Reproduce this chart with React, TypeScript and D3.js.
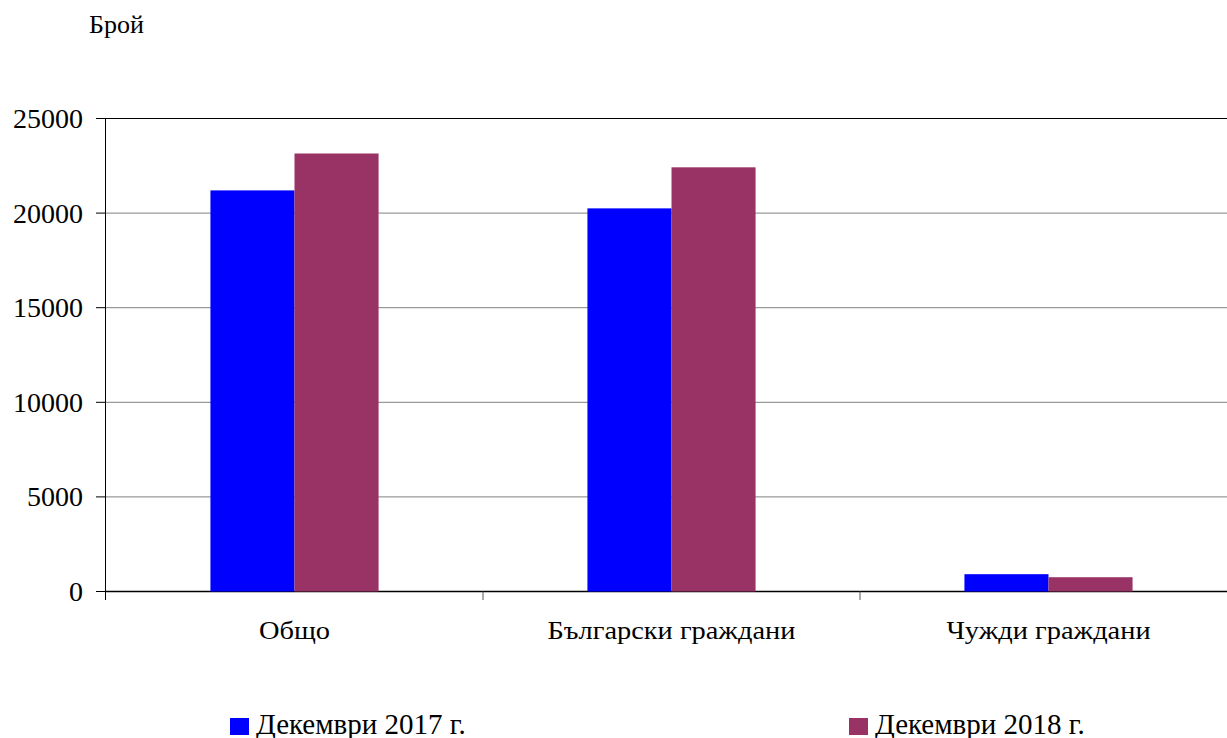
import React from 'react';
import * as d3 from 'd3';

const categories = ['Общо', 'Български граждани', 'Чужди граждани'];
const seriesNames = ['Декември 2017 г.', 'Декември 2018 г.'];
const values2017 = [21200, 20250, 915];
const values2018 = [23150, 22420, 755];
const yTicks = [0, 5000, 10000, 15000, 20000, 25000];
const seriesColors = ['#0000FF', '#993366'];

const W = 1227;
const H = 738;
const font = '"Liberation Serif", "Times New Roman", serif';

export default function App() {
    const x0 = d3.scaleBand<string>().domain(categories).range([106, 1237]).padding(0);
    const bw = x0.bandwidth();
    const groupW = bw * 0.446;
    const x1 = d3.scaleBand<string>().domain(seriesNames).range([(bw - groupW) / 2, (bw + groupW) / 2]).padding(0);
    const y = d3.scaleLinear().domain([0, 25000]).range([591.5, 118.5]);
    const series = [values2017, values2018];

    return (
        <svg width={W} height={H} style={{ position: 'absolute', left: 0, top: 0, display: 'block' }} fontFamily={font}>
            <rect width={W} height={H} fill="#fff" />
            <text x={89} y={33} fontSize={26} fill="#000">Брой</text>

            {/* gridlines and y ticks */}
            {yTicks.map(t => (
                <g key={t}>
                    <line x1={106} x2={W} y1={y(t)} y2={y(t)}
                        stroke={t === 0 || t === 25000 ? '#000' : '#808080'} strokeWidth={t === 0 ? 1.5 : 1} />
                    <line x1={96} x2={106} y1={y(t)} y2={y(t)} stroke="#000" />
                    <text x={83} y={y(t)} dy="0.34em" textAnchor="end" fontSize={28} fill="#000">{t}</text>
                </g>
            ))}
            <line x1={105.5} x2={105.5} y1={y(25000)} y2={600} stroke="#000" />

            {/* category ticks */}
            {categories.slice(1).map(c => (
                <line key={c} x1={x0(c)!} x2={x0(c)!} y1={y(0)} y2={600} stroke="#555" />
            ))}

            {/* bars */}
            {categories.map((c, i) => (
                <g key={c} transform={`translate(${x0(c)},0)`}>
                    {seriesNames.map((s, j) => (
                        <rect key={s} x={x1(s)!} width={x1.bandwidth()} y={y(series[j][i])}
                            height={y(0) - y(series[j][i])} fill={seriesColors[j]} />
                    ))}
                </g>
            ))}

            {/* category labels */}
            {categories.map(c => (
                <text key={c} transform={`translate(${x0(c)! + bw / 2},639) scale(1.16,1)`}
                    textAnchor="middle" fontSize={24.5} fill="#000">{c}</text>
            ))}

            {/* legend */}
            {seriesNames.map((s, j) => {
                const lx = [230, 849][j];
                return (
                    <g key={s}>
                        <rect x={lx} y={718} width={19} height={17} fill={seriesColors[j]} />
                        <text x={lx + 26} y={734} fontSize={29} fill="#000">{s}</text>
                    </g>
                );
            })}
        </svg>
    );
}
